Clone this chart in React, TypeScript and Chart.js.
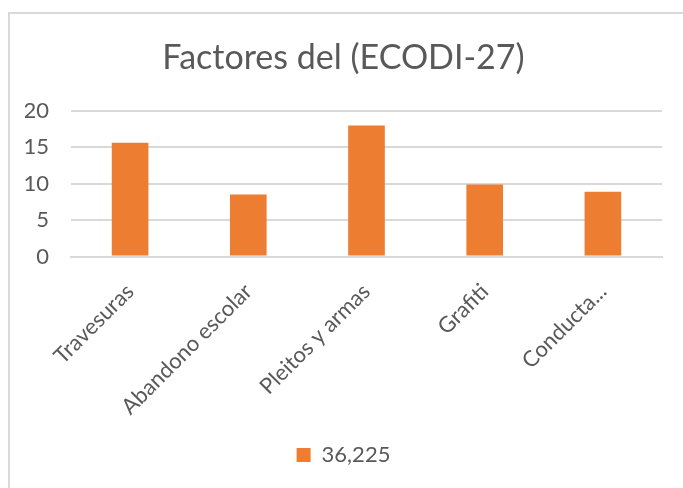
import React, { useEffect, useRef } from "react";
import { Chart, registerables } from "chart.js";

Chart.register(...registerables);

const categories = ["Travesuras", "Abandono escolar", "Pleitos y armas", "Grafiti", "Conducta..."];
const values = [15.6, 8.5, 18.0, 9.9, 8.9];
const seriesName = "36,225";
const yTicks = [0, 5, 10, 15, 20];

const FONT = "Lato, 'Open Sans', sans-serif";
const TXT = "#595959";

export default function App() {
  const ref = useRef<HTMLCanvasElement>(null);
  useEffect(() => {
    if (!ref.current) return;
    const chart = new Chart(ref.current, {
      type: "bar",
      data: {
        labels: categories,
        datasets: [
          {
            label: seriesName,
            data: values,
            backgroundColor: "#ED7D31",
            borderWidth: 0,
            categoryPercentage: 1,
            barPercentage: 0.31,
          },
        ],
      },
      options: {
        responsive: false,
        animation: false,
        layout: { autoPadding: false, padding: { left: 15, right: 21, top: 24, bottom: 12 } },
        plugins: {
          title: {
            display: true,
            text: "Factores del (ECODI-27)",
            color: TXT,
            font: { family: FONT, size: 34, weight: "normal" },
            padding: { top: 0, bottom: 32 },
          },
          legend: {
            position: "bottom",
            labels: {
              color: TXT,
              font: { family: FONT, size: 22 },
              boxWidth: 14,
              boxHeight: 14,
              padding: 10,
            },
          },
          tooltip: { enabled: false },
        },
        scales: {
          x: {
            grid: { display: false },
            border: { color: "#D9D9D9", width: 2 },
            afterFit: (axis: any) => {
              axis.paddingLeft = 0;
            },
            ticks: {
              color: TXT,
              font: { family: FONT, size: 22 },
              minRotation: 45,
              maxRotation: 45,
              autoSkip: false,
              padding: 14,
            },
          },
          y: {
            min: 0,
            max: 20,
            afterBuildTicks: (axis: any) => {
              axis.ticks = yTicks.map((v) => ({ value: v }));
            },
            afterFit: (axis: any) => {
              axis.width = 46;
            },
            grid: { color: "#D9D9D9", lineWidth: 2, drawTicks: false },
            border: { display: false },
            ticks: {
              color: TXT,
              font: { family: FONT, size: 22 },
              padding: 22,
            },
          },
        },
      },
    });
    return () => chart.destroy();
  }, []);
  return (
    <div
      style={{
        position: "absolute",
        left: 8,
        top: 12,
        width: 675,
        height: 476,
        borderLeft: "2px solid #D9D9D9",
        borderTop: "2px solid #D9D9D9",
        boxSizing: "border-box",
        background: "#fff",
      }}
    >
      <canvas ref={ref} width={673} height={474} style={{ display: "block" }} />
    </div>
  );
}
